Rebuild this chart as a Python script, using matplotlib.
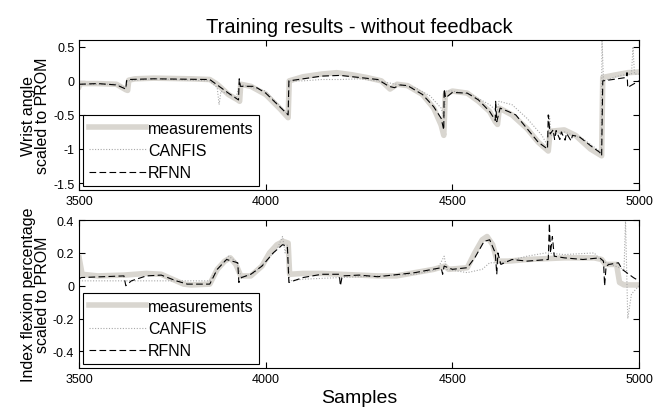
import matplotlib
matplotlib.use("Agg")
import matplotlib.pyplot as plt

plt.rcParams["font.family"] = ["Liberation Sans", "DejaVu Sans"]

# ---- wrist angle (top panel) ----
wrist_meas_x = [3500, 3503, 3550, 3600, 3625, 3630, 3633, 3650, 3700, 3800, 3850, 3870, 3900, 3925,
                3930, 3933, 3960, 4000, 4040, 4060, 4063, 4100, 4150, 4190, 4230, 4270, 4310, 4333,
                4352, 4380, 4420, 4450, 4470, 4477, 4481, 4500, 4540, 4570, 4600, 4615, 4621, 4626,
                4660, 4700, 4730, 4757, 4762, 4800, 4830, 4870, 4900, 4903, 4930, 4970, 5000]
wrist_meas_y = [-0.08, -0.04, -0.04, -0.05, -0.13, -0.14, 0.01, 0.03, 0.04, 0.03, 0.02, -0.05, -0.2, -0.28,
                -0.3, -0.05, -0.08, -0.2, -0.42, -0.54, 0.0, 0.06, 0.1, 0.12, 0.09, 0.05, 0.0, -0.12,
                -0.05, -0.07, -0.2, -0.4, -0.65, -0.8, -0.2, -0.15, -0.18, -0.3, -0.45, -0.6, -0.64, -0.4,
                -0.5, -0.7, -0.9, -1.03, -0.74, -0.72, -0.8, -1.0, -1.1, 0.05, 0.08, 0.12, 0.13]

wrist_canfis_x = [3500, 3600, 3625, 3630, 3700, 3850, 3870, 3875, 3880, 3920, 3930, 4000, 4060, 4063,
                  4100, 4150, 4200, 4250, 4300, 4350, 4400, 4440, 4470, 4478, 4482, 4500, 4550, 4600,
                  4620, 4625, 4660, 4700, 4740, 4755, 4760, 4765, 4800, 4850, 4899, 4901, 4905, 4950,
                  4980, 4984, 4988, 5000]
wrist_canfis_y = [-0.05, -0.05, -0.1, 0.0, 0.03, 0.0, -0.1, -0.35, -0.15, -0.25, -0.05, -0.15, -0.5, 0.0,
                  0.0, 0.02, 0.02, 0.03, 0.0, -0.05, -0.1, -0.22, -0.4, -0.55, -0.15, -0.15, -0.2, -0.35,
                  -0.45, -0.3, -0.35, -0.55, -0.8, -0.95, -0.5, -0.8, -0.75, -0.85, -1.05, 0.6, 0.0, 0.08,
                  0.1, 0.5, 0.1, 0.1]

wrist_rfnn_x = [3500, 3550, 3600, 3625, 3627, 3630, 3700, 3850, 3900, 3927, 3929, 3932, 3970, 4000,
                4060, 4062, 4100, 4150, 4200, 4250, 4300, 4330, 4345, 4360, 4380, 4420, 4450, 4470,
                4477, 4478, 4482, 4500, 4540, 4570, 4600, 4615, 4616, 4619, 4628, 4650, 4670, 4700,
                4730, 4755, 4757, 4762, 4770, 4774, 4778, 4788, 4792, 4802, 4806, 4818, 4822, 4840,
                4870, 4895, 4900, 4903, 4930, 4966, 4968, 4970, 4975, 5000]
wrist_rfnn_y = [-0.05, -0.04, -0.06, -0.12, 0.0, 0.02, 0.03, 0.02, -0.18, -0.28, 0.03, -0.08, -0.08, -0.18,
                -0.5, 0.0, 0.03, 0.07, 0.08, 0.05, 0.02, -0.08, -0.1, -0.06, -0.07, -0.2, -0.38, -0.55,
                -0.72, -0.12, -0.25, -0.17, -0.18, -0.28, -0.45, -0.58, -0.3, -0.6, -0.4, -0.45, -0.5, -0.7,
                -0.9, -1.0, -0.5, -0.78, -0.72, -0.86, -0.73, -0.86, -0.75, -0.87, -0.77, -0.88, -0.8, -0.82,
                -0.95, -1.05, -1.1, 0.0, 0.02, 0.05, 0.12, -0.1, -0.08, 0.0]

# ---- index flexion (bottom panel) ----
index_meas_x = [3500, 3508, 3550, 3620, 3680, 3720, 3750, 3780, 3800, 3850, 3870, 3890, 3905, 3920,
                3933, 3960, 3990, 4010, 4030, 4047, 4060, 4064, 4100, 4150, 4200, 4250, 4300, 4350,
                4400, 4450, 4480, 4490, 4540, 4560, 4580, 4593, 4608, 4620, 4650, 4700, 4800, 4880,
                4900, 4910, 4940, 4948, 4960, 5000]
index_meas_y = [0.17, 0.07, 0.06, 0.065, 0.075, 0.07, 0.04, 0.01, 0.005, 0.01, 0.1, 0.15, 0.17, 0.13,
                0.06, 0.06, 0.12, 0.2, 0.25, 0.27, 0.26, 0.07, 0.075, 0.075, 0.07, 0.065, 0.06, 0.06,
                0.08, 0.1, 0.12, 0.1, 0.11, 0.2, 0.28, 0.3, 0.25, 0.15, 0.15, 0.16, 0.17, 0.17,
                0.16, 0.13, 0.13, 0.02, 0.005, 0.005]

index_canfis_x = [3500, 3850, 3870, 3900, 3920, 3935, 3970, 4000, 4030, 4045, 4052, 4058, 4064, 4100,
                  4200, 4300, 4400, 4460, 4478, 4485, 4540, 4580, 4600, 4630, 4700, 4750, 4800, 4880,
                  4900, 4960, 4964, 4970, 4980, 5000]
index_canfis_y = [0.03, 0.03, 0.1, 0.18, 0.15, 0.05, 0.08, 0.15, 0.22, 0.3, 0.2, 0.25, 0.03, 0.04,
                  0.05, 0.06, 0.07, 0.1, 0.18, 0.1, 0.08, 0.1, 0.14, 0.14, 0.18, 0.2, 0.19, 0.2,
                  0.15, 0.1, 0.4, -0.2, -0.05, 0.0]

index_rfnn_x = [3500, 3505, 3620, 3625, 3640, 3680, 3720, 3760, 3790, 3850, 3870, 3895, 3925, 3928,
                3935, 3960, 3990, 4020, 4045, 4058, 4062, 4100, 4150, 4197, 4200, 4205, 4250, 4300,
                4400, 4470, 4474, 4478, 4500, 4540, 4560, 4585, 4600, 4615, 4619, 4622, 4630, 4660,
                4700, 4757, 4760, 4763, 4768, 4773, 4800, 4850, 4895, 4905, 4908, 4912, 4920, 4945,
                4955, 4985, 5000]
index_rfnn_y = [0.04, 0.05, 0.06, 0.0, 0.03, 0.06, 0.065, 0.03, 0.01, 0.01, 0.1, 0.16, 0.14, 0.02,
                0.05, 0.07, 0.12, 0.2, 0.25, 0.24, 0.02, 0.05, 0.07, 0.07, 0.0, 0.06, 0.065, 0.055,
                0.08, 0.11, 0.07, 0.12, 0.1, 0.11, 0.17, 0.27, 0.28, 0.2, 0.07, 0.2, 0.13, 0.16,
                0.15, 0.16, 0.38, 0.2, 0.3, 0.18, 0.17, 0.16, 0.17, 0.15, 0.0, 0.12, 0.13, 0.14,
                0.1, 0.05, 0.03]

MEAS_COLOR = "#d9d6d0"
CANFIS_COLOR = "#a8a8a8"

fig = plt.figure(figsize=(6.54, 4.14), dpi=100)
ax1 = fig.add_axes([0.121, 0.539, 0.856, 0.362])
ax2 = fig.add_axes([0.121, 0.109, 0.856, 0.357])

panels = [
    (ax1, wrist_meas_x, wrist_meas_y, wrist_canfis_x, wrist_canfis_y, wrist_rfnn_x, wrist_rfnn_y,
     (-1.6, 0.6), [-1.5, -1, -0.5, 0, 0.5], ["-1.5", "-1", "-0.5", "0", "0.5"],
     "Wrist angle\nscaled to PROM"),
    (ax2, index_meas_x, index_meas_y, index_canfis_x, index_canfis_y, index_rfnn_x, index_rfnn_y,
     (-0.5, 0.4), [-0.4, -0.2, 0, 0.2, 0.4], ["-0.4", "-0.2", "0", "0.2", "0.4"],
     "Index flexion percentage\nscaled to PROM"),
]

for ax, mx, my, cx, cy, rx, ry, ylim, yt, ytl, ylab in panels:
    ax.plot(mx, my, color=MEAS_COLOR, lw=4, solid_joinstyle="round", label="measurements")
    ax.plot(cx, cy, color=CANFIS_COLOR, lw=0.8, ls=(0, (1, 1.5)), label="CANFIS")
    ax.plot(rx, ry, color="black", lw=0.8, ls=(0, (6, 3)), label="RFNN")
    ax.set_xlim(3500, 5000)
    ax.set_ylim(*ylim)
    ax.set_xticks([3500, 4000, 4500, 5000])
    ax.set_yticks(yt)
    ax.set_yticklabels(ytl)
    ax.tick_params(direction="in", top=True, right=True, length=4, labelsize=9, width=0.8)
    ax.set_ylabel(ylab, fontsize=11.5, linespacing=0.95, labelpad=2)
    leg = ax.legend(loc="lower left", fontsize=11.5, frameon=True, fancybox=False,
                    edgecolor="black", framealpha=1, handlelength=3.6, handletextpad=0.1,
                    borderpad=0.35, labelspacing=0.45, borderaxespad=0.25)
    leg.get_frame().set_linewidth(0.8)

ax1.set_title("Training results - without feedback", fontsize=14.5, pad=6)
ax2.set_xlabel("Samples", fontsize=14, labelpad=3)

fig.savefig("out.png", dpi=100)
